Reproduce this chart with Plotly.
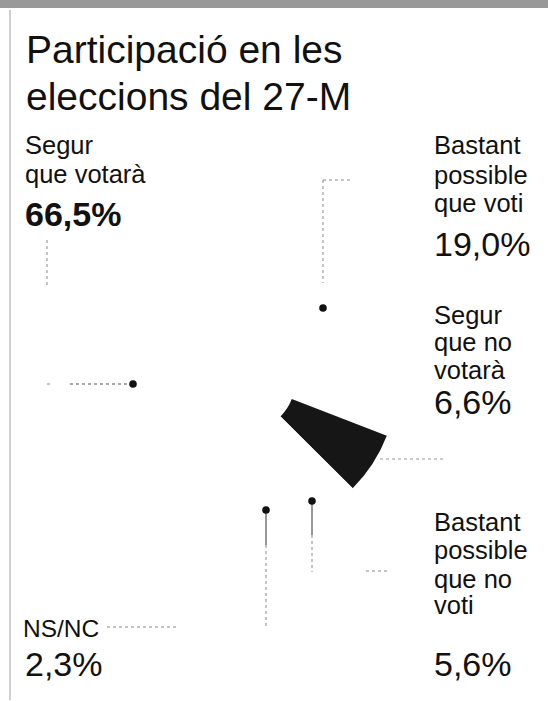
import plotly.graph_objects as go

# ---- data ----
categories = ["Segur que votarà", "Bastant possible que voti", "Segur que no votarà",
              "Bastant possible que no voti", "NS/NC"]
values = [66.5, 19.0, 6.6, 5.6, 2.3]
value_labels = ["66,5%", "19,0%", "6,6%", "5,6%", "2,3%"]
slice_colors = ["#ffffff", "#ffffff", "#161616", "#ffffff", "#ffffff"]
title_lines = ["Participació en les", "eleccions del 27-M"]

W, H = 548, 701
FONT = "Liberation Sans, Arial, Helvetica, sans-serif"


def px(x):
    return x / W


def py(y):
    return 1 - y / H


# pie placement (page pixels)
cx, cy, R = 245, 381, 152
mid_dark = 123.0  # clockwise degrees from 12 o'clock to middle of dark slice
rotation = mid_dark - values[2] * 3.6 / 2 - (values[0] + values[1]) * 3.6
while rotation < -360:
    rotation += 360

fig = go.Figure()
fig.add_trace(go.Pie(
    labels=categories, values=values, sort=False, direction="clockwise",
    rotation=rotation, hole=0.33, textinfo="none", hoverinfo="label+percent",
    marker=dict(colors=slice_colors, line=dict(width=0)),
    domain=dict(x=[px(cx - R), px(cx + R)], y=[py(cy + R), py(cy - R)]),
    showlegend=False,
))

ann = []
BASE = 0.92  # baseline offset (em) below the top of an annotation box


def text(x, baseline, s, size, bold=False, color="#111111"):
    top = baseline - BASE * size
    ann.append(dict(x=px(x), y=py(top), xref="paper", yref="paper",
                    xanchor="left", yanchor="top", showarrow=False,
                    text=("<b>%s</b>" % s) if bold else s,
                    font=dict(family=FONT, size=size, color=color),
                    borderpad=0))


TS = 39
LS = 25.5
PS = 34
# title
text(25, 63, title_lines[0], TS)
text(25, 110, title_lines[1], TS)
# Segur que votarà
text(24, 153, "Segur", LS)
text(24, 182, "que votarà", LS)
text(24, 225, value_labels[0], PS, bold=True)
# Bastant possible que voti
text(433, 153, "Bastant", LS)
text(433, 183, "possible", LS)
text(433, 211, "que voti", LS)
text(433, 255, value_labels[1], PS)
# Segur que no votarà
text(433, 323, "Segur", LS)
text(433, 350, "que no", LS)
text(433, 378, "votarà", LS)
text(433, 413, value_labels[2], PS)
# Bastant possible que no voti
text(433, 530, "Bastant", LS)
text(433, 558, "possible", LS)
text(433, 587, "que no", LS)
text(433, 613, "voti", LS)
text(433, 675, value_labels[3], PS)
# NS/NC
text(22, 637, "NS/NC", 24.5)
text(24, 675, value_labels[4], PS)

shapes = []


def line(x0, y0, x1, y1, color="#8a8a8a", width=1, dash="dot"):
    shapes.append(dict(type="line", xref="paper", yref="paper",
                       x0=px(x0), y0=py(y0), x1=px(x1), y1=py(y1),
                       line=dict(color=color, width=width, dash=dash)))


def dot(x, y, r=3.8):
    shapes.append(dict(type="circle", xref="paper", yref="paper",
                       x0=px(x - r), y0=py(y + r), x1=px(x + r), y1=py(y - r),
                       fillcolor="#111111", line=dict(width=0)))


# top textured band & left rule
shapes.append(dict(type="rect", xref="paper", yref="paper",
                   x0=0, x1=1, y0=py(8), y1=py(0),
                   fillcolor="#7f7f7f", line=dict(width=0), opacity=0.8))
line(10, 10, 10, 700, color="#a0a0a0", width=1, dash="solid")

# leader lines
line(47, 240, 47, 287)
line(47, 384, 52, 384)
line(70, 384, 133, 384, color="#555555", dash="dot")
dot(133, 384)

line(323, 180, 323, 283)
line(323, 180, 352, 180)
dot(323, 308)

line(380, 459, 446, 459, color="#999999")

line(312, 501, 312, 535, color="#333333", dash="solid")
line(312, 535, 312, 572)
line(366, 571, 390, 571)
dot(312, 501)

line(266, 510, 266, 545, color="#333333", dash="solid")
line(266, 545, 266, 627)
line(107, 627, 178, 627)
dot(266, 510)

fig.update_layout(
    width=W, height=H, margin=dict(l=0, r=0, t=0, b=0),
    paper_bgcolor="#ffffff", plot_bgcolor="#ffffff",
    annotations=ann, shapes=shapes,
)
fig.write_html("out.html", config={"displayModeBar": False},
               post_script="document.body.style.margin='0';document.body.style.overflow='hidden';")
